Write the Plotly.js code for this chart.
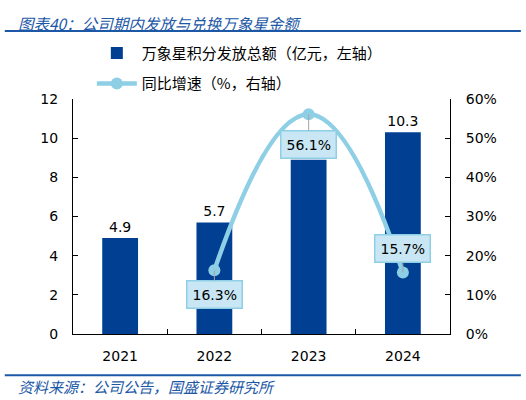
<!DOCTYPE html>
<html>
<head>
<meta charset="utf-8">
<script src="https://cdn.plot.ly/plotly-3.0.1.min.js"></script>
<style>
  body { margin: 0; background: #fff; }
  #chart { width: 526px; height: 400px; }
</style>
</head>
<body>
<div id="chart"></div>
<script>
// data
var years = ['2021', '2022', '2023', '2024'];
var amount = [4.9, 5.7, 8.9, 10.3];           // 亿元, left axis
var amountLabels = ['4.9', '5.7', '', '10.3'];  // 2023 label sits under the 56.1% box
var growth = [null, 16.3, 56.1, 15.7];        // %, right axis
var growthLabels = ['', '16.3%', '56.1%', '15.7%'];
var labelOffsetY = [0, 24, 30, -24];

var barName = '万象星积分发放总额（亿元，左轴）';
var lineName = '同比增速（%，右轴）';

var numFont = 'DejaVu Sans, Verdana, sans-serif';
var cjkFont = 'Noto Sans CJK SC, sans-serif';
var blue = '#013f93';
var light = '#8ecfe6';
var navy = '#1c58a6';

var barTrace = {
  type: 'bar',
  name: barName,
  x: years,
  y: amount,
  width: 0.38,
  marker: { color: blue },
  text: amountLabels,
  textposition: 'outside',
  textfont: { family: numFont, size: 14, color: '#000' },
  cliponaxis: false,
  legendgroup: 'a',
  yaxis: 'y'
};

var lineTrace = {
  type: 'scatter',
  mode: 'lines+markers',
  name: lineName,
  x: years,
  y: growth,
  line: { color: light, width: 4.5, shape: 'spline', smoothing: 1.3 },
  marker: { color: light, size: 12 },
  legendgroup: 'b',
  yaxis: 'y2',
  cliponaxis: false
};

var annots = [];
for (var i = 0; i < years.length; i++) {
  if (!growthLabels[i]) continue;
  annots.push({
    x: i, y: growth[i], xref: 'x', yref: 'y2',   // category index
    text: growthLabels[i],
    showarrow: true, arrowhead: 0, arrowwidth: 1, arrowcolor: '#a6a6a6',
    ax: 0, ay: labelOffsetY[i],
    bgcolor: '#c8e6f3', bordercolor: light, borderwidth: 1.5, borderpad: 5,
    font: { family: numFont, size: 14, color: '#000' }
  });
}

// heading and source
annots.push({
  xref: 'paper', yref: 'paper', x: -0.152, y: 1.325, xanchor: 'left', yanchor: 'middle',
  text: '<i>图表40：公司期内发放与兑换万象星金额</i>', showarrow: false,
  font: { family: cjkFont, size: 15.5, color: navy }
});
annots.push({
  xref: 'paper', yref: 'paper', x: -0.152, y: -0.225, xanchor: 'left', yanchor: 'middle',
  text: '<i>资料来源：公司公告，国盛证券研究所</i>', showarrow: false,
  font: { family: cjkFont, size: 15, color: navy }
});

var layout = {
  width: 526, height: 400,
  margin: { l: 73, r: 76, t: 99, b: 66 },
  paper_bgcolor: '#fff', plot_bgcolor: '#fff',
  showlegend: true,
  legend: {
    x: 0.05, y: 1.265, xanchor: 'left', yanchor: 'top',
    orientation: 'v', traceorder: 'grouped', tracegroupgap: 8,
    itemwidth: 40,
    font: { family: cjkFont, size: 15, color: '#000' }
  },
  xaxis: {
    type: 'category', range: [-0.5, 3.5],
    showline: true, linecolor: '#000', linewidth: 1,
    ticks: 'inside', tickson: 'boundaries', ticklen: 5, tickcolor: '#000',
    ticklabelstandoff: 9, tickangle: 0,
    tickfont: { family: numFont, size: 14, color: '#000' },
    showgrid: false, zeroline: false
  },
  yaxis: {
    range: [0, 12], dtick: 2,
    showline: true, linecolor: '#000', linewidth: 1,
    ticks: 'inside', ticklen: 5, tickcolor: '#000',
    ticklabelstandoff: 11,
    tickfont: { family: numFont, size: 14, color: '#000' },
    showgrid: false, zeroline: false
  },
  yaxis2: {
    overlaying: 'y', side: 'right',
    range: [0, 60], dtick: 10, ticksuffix: '%',
    showline: true, linecolor: '#000', linewidth: 1,
    ticks: 'inside', ticklen: 5, tickcolor: '#000',
    ticklabelstandoff: 12,
    tickfont: { family: numFont, size: 14, color: '#000' },
    showgrid: false, zeroline: false
  },
  shapes: [
    { type: 'line', xref: 'paper', yref: 'paper', x0: -0.181, x1: 1.188, y0: 1.289, y1: 1.289,
      line: { color: navy, width: 2 } },
    { type: 'line', xref: 'paper', yref: 'paper', x0: -0.181, x1: 1.188, y0: -0.175, y1: -0.175,
      line: { color: navy, width: 2 } }
  ],
  annotations: annots
};

Plotly.newPlot('chart', [barTrace, lineTrace], layout, { displayModeBar: false, staticPlot: true });
</script>
</body>
</html>
